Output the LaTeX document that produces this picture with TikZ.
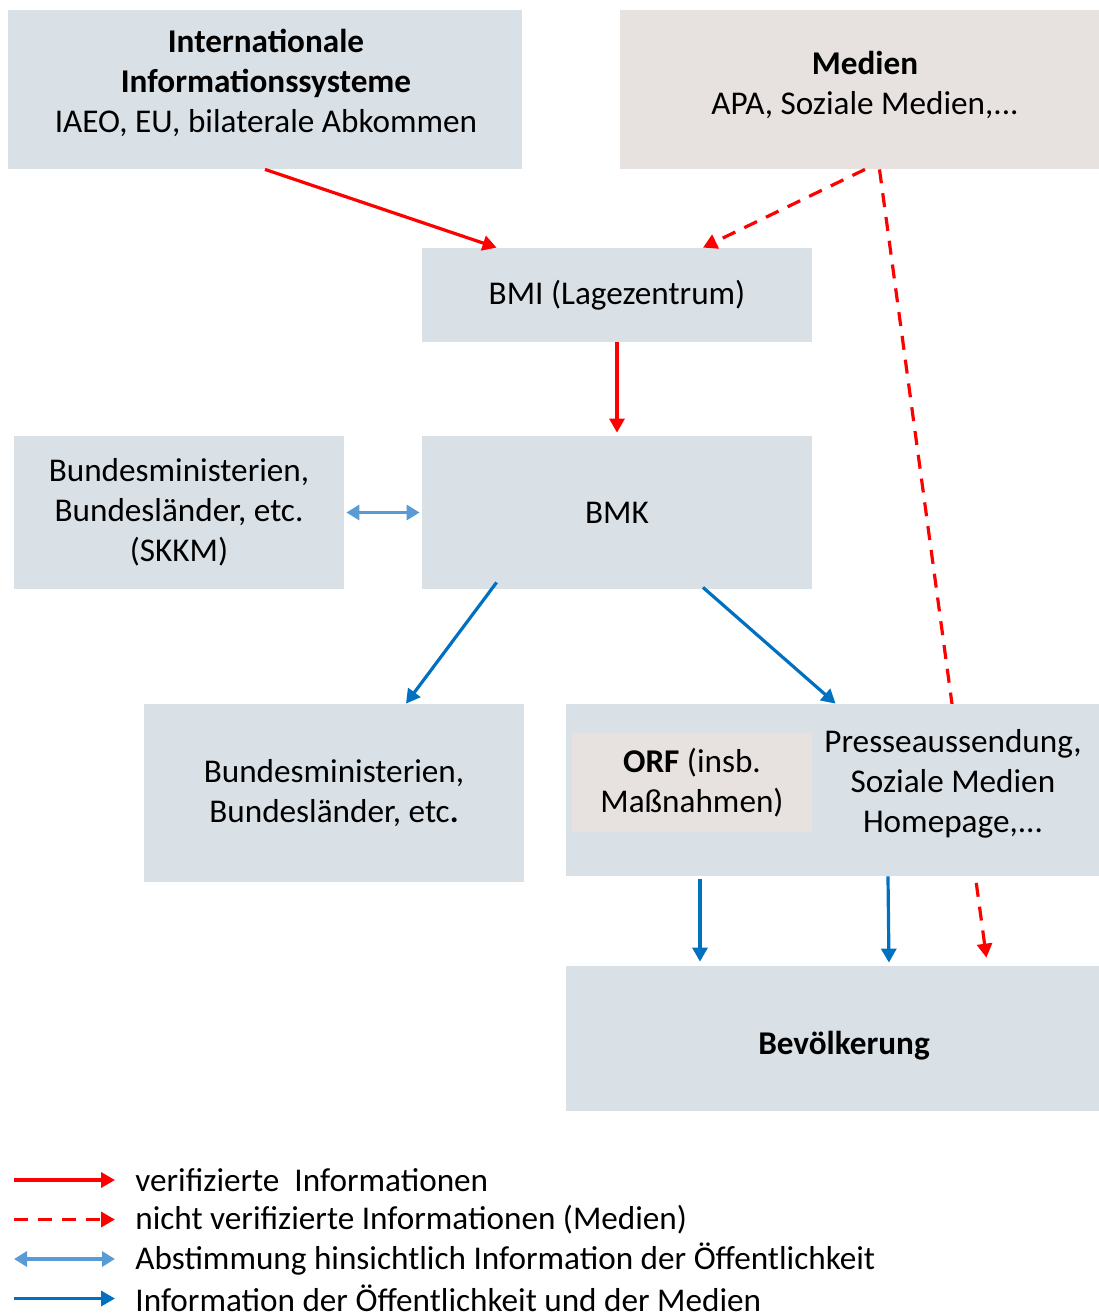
\documentclass[tikz,border=0pt]{standalone}
\usepackage{fontspec}
\setmainfont{Carlito}
\usepackage{tikz}
\usetikzlibrary{positioning,arrows.meta,backgrounds}

\definecolor{boxblue}{RGB}{217,225,231}
\definecolor{boxbeige}{RGB}{231,226,223}
\definecolor{infored}{RGB}{255,0,0}
\definecolor{infoblue}{RGB}{0,112,192}
\definecolor{lightblue}{RGB}{91,155,213}

\tikzset{
  box/.style={fill=boxblue, inner sep=0pt, align=center, font=\fontsize{16.6}{20}\selectfont},
  mediabox/.style={box, fill=boxbeige},
  plain/.style={inner sep=0pt, align=center, font=\fontsize{16.6}{20}\selectfont},
  verified/.style={draw=infored, line width=1.6pt, -{Triangle[length=7pt,width=7.5pt]}},
  unverified/.style={verified, dash pattern=on 7pt off 5pt},
  agree/.style={draw=lightblue, line width=1.6pt, {Triangle[length=6.5pt,width=7.5pt]}-{Triangle[length=6.5pt,width=7.5pt]}},
  public/.style={draw=infoblue, line width=1.6pt, -{Triangle[length=7pt,width=7.5pt]}}
}

\begin{document}
\begin{tikzpicture}[x=0.5pt,y=0.5pt,yscale=-1,xscale=1]
\useasboundingbox (0,0) rectangle (1099,1314);

%Shape: Rectangle [intl]
\node[box, minimum width=257pt, minimum height=79.5pt] (intl) at (265,89.5) {};
% Text Node
\node[plain] (intltext) at (266,83) {\textbf{Internationale}\\ \textbf{Informationssysteme}\\ IAEO, EU, bilaterale Abkommen};
%Shape: Rectangle [medien]
\node[mediabox, minimum width=239.5pt, minimum height=79.5pt] (medien) at (859.5,89.5) {};
% Text Node
\node[plain] (medientext) at (865,85) {\textbf{Medien}\\ APA, Soziale Medien,...};
%Shape: Rectangle [bmi]
\node[box, minimum width=195pt, minimum height=47pt] (bmi) at (617,295) {BMI (Lagezentrum)};
%Shape: Rectangle [bmk]
\node[box, minimum width=195pt, minimum height=76.5pt] (bmk) at (617,512.5) {BMK};
%Shape: Rectangle [skkm]
\node[box, minimum width=165pt, minimum height=76.5pt] (skkm) at (179,512.5) {Bundesministerien,\\ Bundesländer, etc.\\ (SKKM)};
%Shape: Rectangle [bund]
\node[box, minimum width=190pt, minimum height=89pt] (bund) at (334,793) {Bundesministerien,\\ Bundesländer, etc\textbf{.}};
%Shape: Rectangle [presse]
\node[box, minimum width=266.5pt, minimum height=86pt] (presse) at (832.5,790) {};
%Shape: Rectangle [orf]
\node[mediabox, minimum width=120pt, minimum height=49.5pt] (orf) at (692,782.5) {\textbf{ORF} (insb.\\ Maßnahmen)};
% Text Node
\node[plain] (pressetext) at (953,784) {Presseaussendung,\\ Soziale Medien\\ Homepage,...};
%Shape: Rectangle [bevoelkerung]
\node[box, minimum width=266.5pt, minimum height=72.5pt] (bevoelkerung) at (832.5,1038.5) {};
% Text Node
\node[plain] (bevtext) at (844,1046) {\textbf{Bevölkerung}};

%Straight Lines [verified]
\draw[verified] (intl.south) -- ([xshift=37.5pt]bmi.north west);
\draw[verified, shorten >=1.5pt] (bmi.south) -- (bmk.north);
%Straight Lines [unverified]
\draw[unverified] ([xshift=2.75pt]medien.south) -- ([xshift=43pt]bmi.north);
\begin{scope}[on background layer]
\draw[unverified, shorten >=4pt] ([xshift=10pt]medien.south) -- ([xshift=77.5pt]bevoelkerung.north);
\end{scope}
%Straight Lines [agree]
\draw[agree, shorten <=1pt, shorten >=1pt] (skkm.east) -- (bmk.west);
%Straight Lines [public]
\draw[public] ([xshift=37.5pt,yshift=-3.5pt]bmk.south west) -- ([xshift=36pt]bund.north);
\draw[public] ([xshift=43pt,yshift=-1pt]bmk.south) -- ([xshift=135pt]presse.north west);
\draw[public, shorten >=2pt] ([xshift=-66.25pt,yshift=1.5pt]presse.south) -- ([xshift=-66.25pt]bevoelkerung.north);
\draw[public, shorten >=1.5pt] ([xshift=27.75pt]presse.south) -- ([xshift=28.25pt]bevoelkerung.north);

% Legend
\foreach \row/\sty/\txt in {1/verified/{verifizierte\ \ Informationen},
                            2/unverified/{nicht verifizierte Informationen (Medien)},
                            3/agree/{Abstimmung hinsichtlich Information der Öffentlichkeit},
                            4/public/{Information der Öffentlichkeit und der Medien}}{
  \coordinate (leg\row a) at (14,1140.5+39.5*\row);
  \coordinate (leg\row b) at (115,1140.5+39.5*\row);
  \draw[\sty, line width=1.9pt] (leg\row a) -- (leg\row b);
  \node[plain, anchor=west] (legtext\row) at (135,1140.5+39.5*\row) {\txt};
}

\end{tikzpicture}
\end{document}
